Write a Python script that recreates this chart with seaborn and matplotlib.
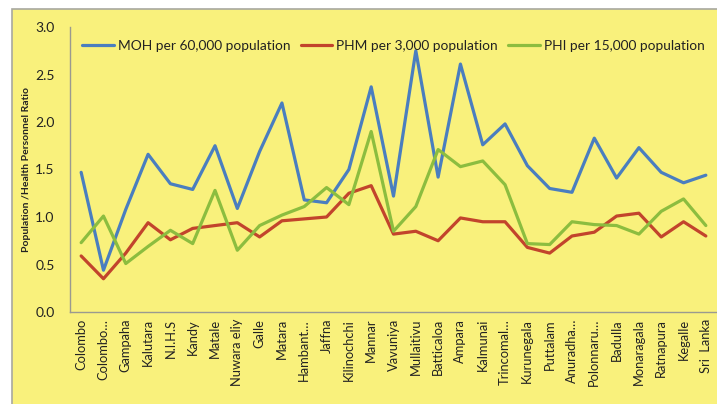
import matplotlib
matplotlib.use("Agg")
import matplotlib.pyplot as plt
from matplotlib.patches import Rectangle
import seaborn as sns
import pandas as pd

districts = ["Colombo", "Colombo…", "Gampaha", "Kalutara", "N.I.H.S", "Kandy",
             "Matale", "Nuwara eliy", "Galle", "Matara", "Hambant…", "Jaffna",
             "Kilinochchi", "Mannar", "Vavuniya", "Mullaitivu", "Batticaloa",
             "Ampara", "Kalmunai", "Trincomal…", "Kurunegala", "Puttalam",
             "Anuradha…", "Polonnaru…", "Badulla", "Monaragala", "Ratnapura",
             "Kegalle", "Sri  Lanka"]

moh = [1.47, 0.44, 1.08, 1.66, 1.35, 1.29, 1.75, 1.09, 1.69, 2.20, 1.18, 1.15,
       1.50, 2.37, 1.22, 2.75, 1.42, 2.61, 1.76, 1.98, 1.54, 1.30, 1.26, 1.83,
       1.41, 1.73, 1.47, 1.36, 1.44]
phm = [0.59, 0.35, 0.62, 0.94, 0.76, 0.88, 0.91, 0.94, 0.79, 0.96, 0.98, 1.00,
       1.25, 1.33, 0.82, 0.85, 0.75, 0.99, 0.95, 0.95, 0.68, 0.62, 0.80, 0.84,
       1.01, 1.04, 0.79, 0.95, 0.80]
phi = [0.73, 1.01, 0.51, 0.69, 0.86, 0.72, 1.28, 0.65, 0.91, 1.02, 1.11, 1.31,
       1.13, 1.90, 0.85, 1.11, 1.71, 1.53, 1.59, 1.34, 0.72, 0.71, 0.95, 0.92,
       0.91, 0.82, 1.06, 1.19, 0.91]

series_names = ["MOH per 60,000 population", "PHM per 3,000 population",
                "PHI per 15,000 population"]
series_colors = ["#4A7EBF", "#C2442C", "#8CBD3F"]

frames = []
for name, vals in zip(series_names, [moh, phm, phi]):
    frames.append(pd.DataFrame({"District": districts, "Ratio": vals, "Series": name}))
df = pd.concat(frames, ignore_index=True)

sns.set_style("white")
plt.rcParams["font.family"] = ["Lato", "DejaVu Sans"]

yellow = "#F9F17C"
text_color = "#222222"
fig = plt.figure(figsize=(7.17, 4.04), dpi=100, facecolor="white")
fig.patches.append(Rectangle((12 / 717, -0.01), 1.0, 1 - 9 / 404 + 0.01,
                             transform=fig.transFigure, facecolor=yellow,
                             edgecolor="#A8A8A0", linewidth=1.2, zorder=-10))

ax = fig.add_axes([70 / 717, 1 - 312 / 404, 647 / 717, 285 / 404])
ax.set_facecolor("none")
ax.set_zorder(1)

x_pos = {d: i for i, d in enumerate(districts)}
df["x"] = df["District"].map(x_pos)

sns.lineplot(data=df, x="x", y="Ratio", hue="Series", hue_order=series_names,
             palette=series_colors, linewidth=2.3, sort=False, ax=ax)

yticks = [0, 0.5, 1.0, 1.5, 2.0, 2.5, 3.0]
ax.set_xlim(-0.5, len(districts) - 0.5)
ax.set_ylim(0, 3.0)
ax.set_xticks(range(len(districts)))
ax.set_xticklabels(districts, rotation=90, fontsize=9.3, color=text_color)
ax.set_yticks(yticks)
ax.set_yticklabels([f"{v:.1f}" for v in yticks], fontsize=10, color=text_color)
ax.tick_params(axis="x", length=0, pad=5)
ax.tick_params(axis="y", length=0, pad=11)
ax.set_xlabel("")
ax.set_ylabel("Population /Health Personnel Ratio", fontsize=7.5, fontweight="bold",
              color=text_color, labelpad=3)

for side in ["top", "right"]:
    ax.spines[side].set_visible(False)
for side in ["left", "bottom"]:
    ax.spines[side].set_color("#9A9A90")
    ax.spines[side].set_linewidth(1.0)

sns.move_legend(ax, "center", bbox_to_anchor=(0.5, 0.933), ncol=3, frameon=False,
                title=None, fontsize=9.9, handlelength=2.3, handletextpad=0.3,
                columnspacing=0.75)
for t in ax.get_legend().get_texts():
    t.set_color(text_color)

fig.savefig("out.png", dpi=100, facecolor="white")
